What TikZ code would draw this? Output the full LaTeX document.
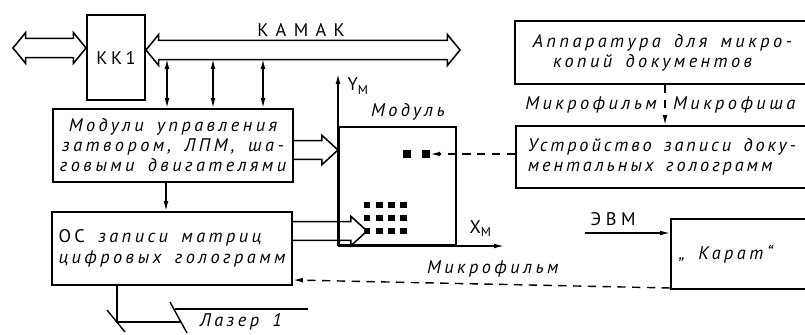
\documentclass[tikz,border=0pt]{standalone}
\usepackage{fontspec}
\setmainfont{PT Sans}[LetterSpace=19, WordSpace=1.6]
\usetikzlibrary{arrows.meta,calc}

% hollow bus arrows (horizontal only)
\newcommand{\fatarrow}[2]{% open tail at #1, head at #2
  \draw[fat] let \p1=(#1), \p2=(#2) in
    (\x1,\y1+6.6pt) -- (\x2-11.5pt,\y1+6.6pt) -- (\x2-11.5pt,\y1+10.5pt)
    -- (\x2,\y1) -- (\x2-11.5pt,\y1-10.5pt) -- (\x2-11.5pt,\y1-6.6pt)
    -- (\x1,\y1-6.6pt);}
\newcommand{\fatdarrow}[2]{% heads at both ends
  \draw[fat] let \p1=(#1), \p2=(#2) in
    (\x1,\y1) -- (\x1+9pt,\y1+11pt) -- (\x1+9pt,\y1+6.8pt)
    -- (\x2-9pt,\y1+6.8pt) -- (\x2-9pt,\y1+11pt) -- (\x2,\y1)
    -- (\x2-9pt,\y1-11pt) -- (\x2-9pt,\y1-6.8pt) -- (\x1+9pt,\y1-6.8pt)
    -- (\x1+9pt,\y1-11pt) -- cycle;}

\begin{document}
\begin{tikzpicture}[
  x=0.025cm, y=-0.025cm,
  font=\fontsize{13}{14.2}\selectfont,
  block/.style={draw, line width=1.4pt, inner sep=0pt},
  txt/.style={font=\fontsize{13}{14.2}\selectfont\itshape},
  sig/.style={-{Latex[length=7pt,width=3.4pt]}, line width=1pt},
  sigb/.style={{Latex[length=7pt,width=3.4pt]}-{Latex[length=7pt,width=3.4pt]}, line width=1pt},
  dsh/.style={dash pattern=on 6pt off 4.5pt},
  fat/.style={line width=1.1pt},
  ln/.style={line width=1pt},
  dot/.style={fill, minimum size=0.2cm, inner sep=0pt},
  mdot/.style={fill, minimum size=0.17cm, inner sep=0pt}
]
  \useasboundingbox (0,0) rectangle (805,335);

  % ---- left column ----
  \node[block, minimum width=1.45cm, minimum height=2.125cm] (kk1) at (116,57.5) {КК1};
  \node[block, txt, minimum width=6cm, minimum height=1.825cm, align=center] (mods) at (173,145.5)
        {Модули управления\\затвором, ЛПМ, ша-\\говыми двигателями};
  \node[block, txt, minimum width=6cm, minimum height=1.825cm, align=left] (os) at (172,248.5)
        {{\upshape ОС} записи матриц\\[1pt]цифровых голограмм};

  % ---- module with axes ----
  \node[block, minimum width=2.925cm, minimum height=2.95cm] (mod) at (397.5,186) {};
  \node[txt] (modl) at (408,112) {Модуль};
  \node[dot] (d1) at (407,154) {};
  \node[dot] (d2) at (426,154) {};
  \foreach \i in {0,...,3}
    \foreach \j in {0,1,2}
      \node[mdot] (m\i\j) at ({367+12.2*\i},{205+13*\j}) {};

  % ---- right column ----
  \node[block, txt, anchor=north west, minimum height=1.575cm, text width=7.4cm,
        inner xsep=0.45cm, align=flush left] (app) at (514,20)
        {Аппаратура для микро-\\\hspace*{1.1em}копий документов};
  \node[block, anchor=north west, minimum height=1.55cm, text width=7.6cm,
        inner xsep=0.3cm, align=flush left,
        font=\fontsize{13}{14.2}\selectfont\itshape\addfontfeature{LetterSpace=16}] (ustr) at (515,125)
        {Устройство записи доку-\\ментальных голограмм};
  \node[block, txt, anchor=north west, minimum height=1.75cm, text width=3.6cm,
        inner xsep=0.2cm, align=flush left] (karat) at (670,218) {„ Карат“};

  % ---- buses ----
  \coordinate (ext) at (13,48);
  \coordinate (busR) at (460,50);
  \fatdarrow{ext}{ext -| kk1.west}
  \fatdarrow{busR -| kk1.east}{busR}
  \node[font=\fontsize{13}{14}\selectfont\addfontfeature{LetterSpace=40}] (kamak) at (301,30) {КАМАК};
  \foreach \x in {167,213,263}
    \draw[sigb] (\x,59) -- (\x,0 |- mods.north);
  \fatarrow{mods.east |- 0,150}{mod.west |- 0,150}
  \fatarrow{os.east |- m02}{m02.center}

  % ---- axes ----
  \draw[sig] (mod.south west) -- ++(0,-172) node[pos=0.93, right=3pt] {Y\textsubscript{М}};
  \draw[sig] (mod.south west) -- ++(166,0) node[pos=0.86, above=3pt] {X\textsubscript{М}};

  % ---- signal lines ----
  \draw[sig] (166,0 |- mods.south) -- (166,0 |- os.north);
  \draw[sig, dsh] (665,0 |- app.south) -- (665,0 |- ustr.north)
        node[txt, pos=0.5, left=2pt] {Микрофильм}
        node[txt, pos=0.5, right=2pt] {Микрофиша};
  \draw[sig, dsh] (ustr.west |- d2) -- (d2.east);
  \coordinate (evm) at (585,233);
  \draw[sig] (evm) -- (evm -| karat.west)
        node[pos=0.33, above=1pt, font=\fontsize{13}{14}\selectfont\addfontfeature{LetterSpace=25}] {ЭВМ};
  \draw[sig, dsh] ($(karat.south west)+(0,-2)$) -- ($(os.south east)+(0,-6)$)
        node[txt, pos=0.47, above=1pt] {Микрофильм};

  % ---- laser ----
  \coordinate (las) at (181,322);
  \draw[ln] (117,0 |- os.south) |- (las);
  \draw[ln] (107,310) -- (125,332);
  \draw[ln] (170,302) -- (187,333);
  \draw[ln] (175,309) -- (308,309);
  \node[txt] (lasl) at (241,322) {Лазер 1};
\end{tikzpicture}
\end{document}
